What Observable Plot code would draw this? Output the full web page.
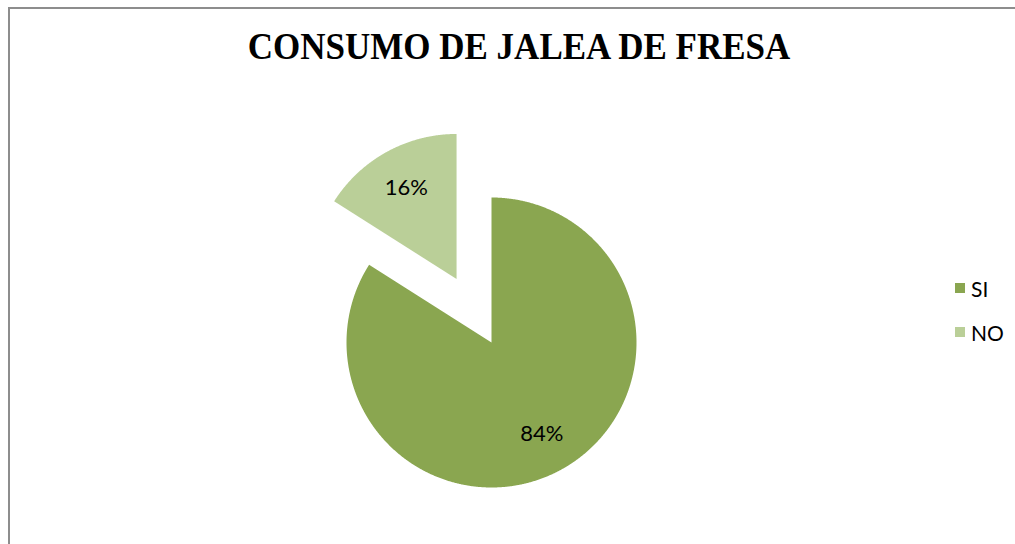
<!DOCTYPE html>
<html><head><meta charset="utf-8">
<script src="https://cdn.jsdelivr.net/npm/d3@7"></script>
<script src="https://cdn.jsdelivr.net/npm/@observablehq/plot@0.6"></script>
<style>
html,body{margin:0;padding:0;background:#fff}
body{width:1015px;height:544px;overflow:hidden;position:relative;font-family:Lato,"Open Sans",sans-serif}
#frame{position:absolute;left:8px;top:7px;width:1100px;height:600px;border:2px solid #8d8d8d;box-sizing:border-box}
#title{position:absolute;top:29px;left:0;width:1038px;text-align:center;font:bold 35px/40px "Liberation Serif","Times New Roman",serif;color:#000;transform:scaleY(1.08);transform-origin:50% 100%}
#chart{position:absolute;left:0;top:100px}
#legend{position:absolute;left:955px;top:276px;font-size:21px;color:#000}
#legend .it{display:flex;align-items:center;height:24px;margin-bottom:20px}
#legend .sw{width:10px;height:10px;margin-right:6px}
</style></head>
<body>
<div id="frame"></div>
<div id="title">CONSUMO DE JALEA DE FRESA</div>
<div id="chart"></div>
<div id="legend"></div>
<script>
const categories = ["SI", "NO"];
const values = [84, 16];
const colors = ["#8AA650", "#BACF98"];
const explode = [0, 0.5];

const total = d3.sum(values);
const arcs = d3.pie().sort(null).value(d => d)(values);
const pts = [];
const labels = [];
arcs.forEach((p, i) => {
  const mid = (p.startAngle + p.endAngle) / 2;
  const ox = explode[i] * Math.sin(mid), oy = explode[i] * Math.cos(mid);
  pts.push({k: categories[i], x: ox, y: oy});
  const n = Math.ceil((p.endAngle - p.startAngle) / 0.005);
  for (let j = 0; j <= n; j++) {
    const a = p.startAngle + (p.endAngle - p.startAngle) * j / n;
    pts.push({k: categories[i], x: ox + Math.sin(a), y: oy + Math.cos(a)});
  }
  pts.push({k: categories[i], x: ox, y: oy});
  const lr = explode[i] + 0.72;
  labels.push({x: lr * Math.sin(mid), y: lr * Math.cos(mid), t: Math.round(values[i] / total * 100) + "%"});
});

const plot = Plot.plot({
  width: 1015, height: 444, margin: 0,
  x: {domain: [-1, 1], range: [346, 636], axis: null},
  y: {domain: [-1, 1], range: [387, 97], axis: null},
  color: {domain: categories, range: colors},
  style: {background: "transparent", overflow: "visible"},
  marks: [
    Plot.line(pts, {x: "x", y: "y", z: "k", fill: "k", stroke: "none"}),
    Plot.text(labels, {x: "x", y: "y", text: "t", fontSize: 22, fill: "#000", fontFamily: "Lato"})
  ]
});
document.getElementById("chart").appendChild(plot);

const lg = document.getElementById("legend");
categories.forEach((c, i) => {
  const it = document.createElement("div"); it.className = "it";
  const sw = document.createElement("div"); sw.className = "sw"; sw.style.background = colors[i];
  const tx = document.createElement("span"); tx.textContent = c;
  it.appendChild(sw); it.appendChild(tx); lg.appendChild(it);
});
</script>
</body></html>
